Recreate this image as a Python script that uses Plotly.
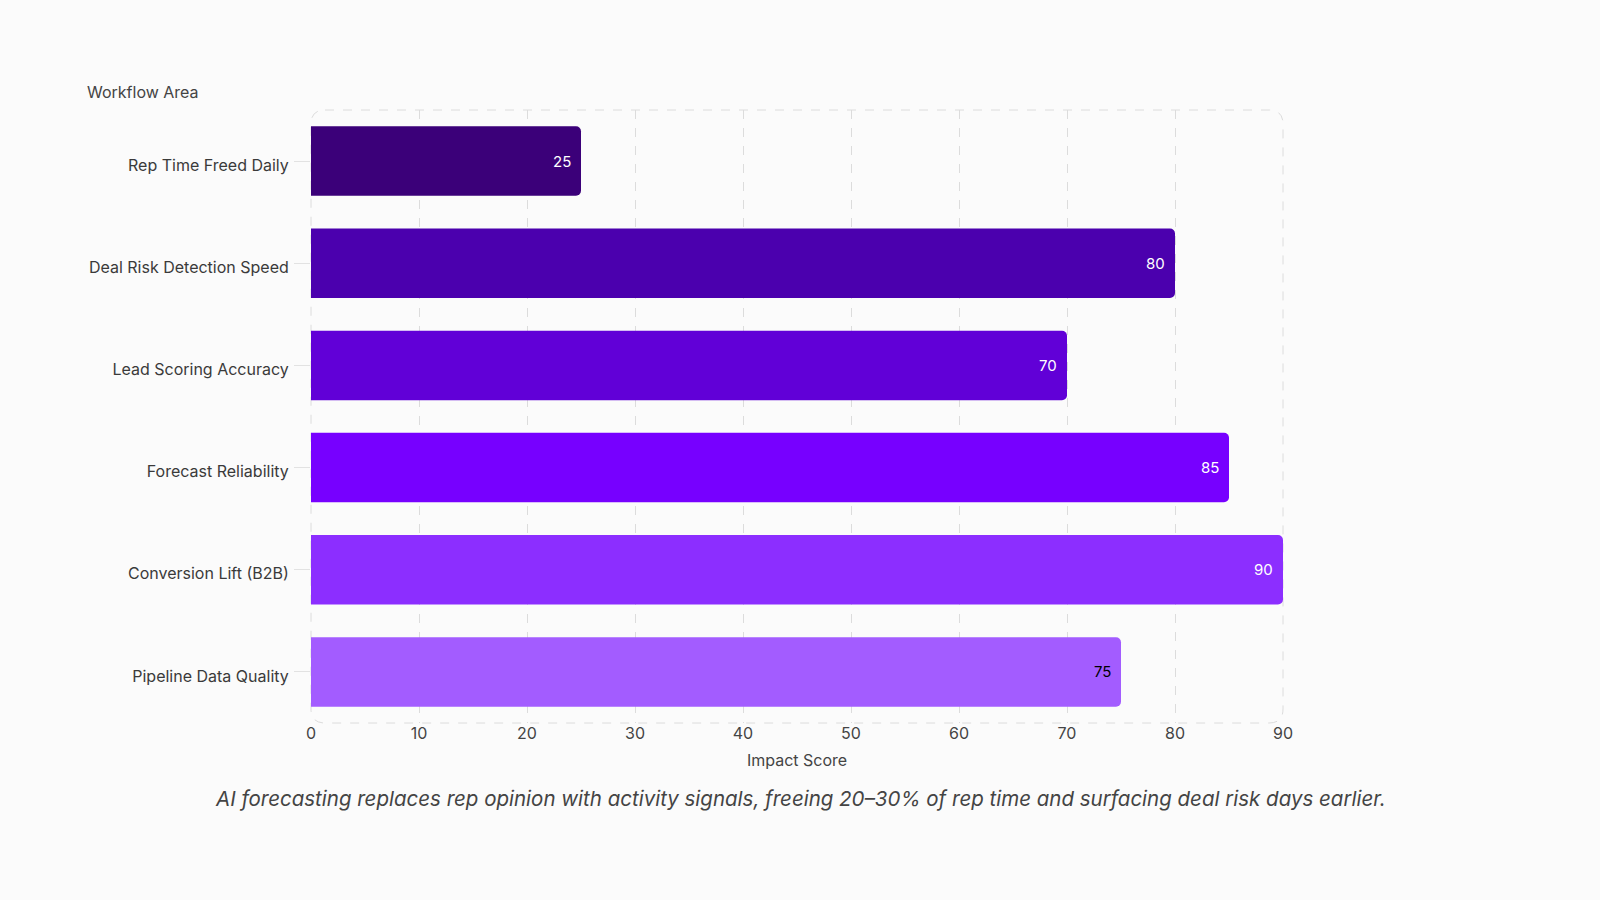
import plotly.graph_objects as go

categories = ["Rep Time Freed Daily", "Deal Risk Detection Speed", "Lead Scoring Accuracy",
              "Forecast Reliability", "Conversion Lift (B2B)", "Pipeline Data Quality"]
scores = [25, 80, 70, 85, 90, 75]
bar_colors = ["#3b0079", "#4b00ae", "#6100d7", "#7700ff", "#8c2eff", "#a35cff"]
label_colors = ["white", "white", "white", "white", "white", "black"]
x_ticks = [0, 10, 20, 30, 40, 50, 60, 70, 80, 90]

FONT = "Inter, Roboto, sans-serif"
BG = "#fbfbfb"
GRID = "#dcdcdc"

fig = go.Figure(go.Bar(
    y=categories, x=scores, orientation="h",
    marker=dict(color=bar_colors, line=dict(width=0)),
    width=0.68,
    hoverinfo="skip",
))

W, H = 1600, 900
ml, mr, mt, mb = 311, 317, 110, 177
pw, ph = W - ml - mr, H - mt - mb
rx, ry = 14 / pw, 14 / ph
path = (f"M {rx},1 L {1-rx},1 Q 1,1 1,{1-ry} L 1,{ry} Q 1,0 {1-rx},0 "
        f"L {rx},0 Q 0,0 0,{ry} L 0,{1-ry} Q 0,1 {rx},1 Z")

annotations = [
    dict(x=v, y=c, xref="x", yref="y", text=str(v), xanchor="right", yanchor="middle",
         xshift=-8, showarrow=False, font=dict(size=15, color=lc))
    for c, v, lc in zip(categories, scores, label_colors)
]
annotations += [
    dict(text="Workflow Area", xref="paper", yref="paper",
         x=(85 - ml) / pw, y=(H - mb - 92) / ph, xanchor="left", yanchor="middle",
         showarrow=False, font=dict(size=16, color="#444")),
    dict(text="<i>AI forecasting replaces rep opinion with activity signals, freeing 20–30% of rep time and surfacing deal risk days earlier.</i>",
         xref="paper", yref="paper", x=(800 - ml) / pw, y=(H - mb - 798) / ph,
         xanchor="center", yanchor="middle", showarrow=False,
         font=dict(size=20.5, color="#444")),
]

fig.update_layout(
    width=W, height=H,
    margin=dict(l=ml, r=mr, t=mt, b=mb),
    paper_bgcolor=BG, plot_bgcolor=BG,
    barcornerradius=5,
    showlegend=False,
    font=dict(family=FONT, size=16, color="#444"),
    xaxis=dict(range=[0, 90], tickvals=x_ticks, showgrid=True, gridcolor=GRID,
               griddash="dash", gridwidth=1, zeroline=False, showline=False,
               tickfont=dict(size=16, color="#444"), ticks="", ticklabelstandoff=-1,
               title=dict(text="Impact Score", font=dict(size=16, color="#444"), standoff=12)),
    yaxis=dict(categoryorder="array", categoryarray=categories, autorange="reversed",
               range=[5.5, -0.5], showgrid=False, zeroline=False, showline=False,
               ticks="outside", ticklen=16, tickcolor="#e2e2e2", tickwidth=1,
               tickfont=dict(size=16, color="#3a3a3a"), ticklabelstandoff=2,
               ticklabelshift=-4),
    shapes=[dict(type="path", path=path, xref="paper", yref="paper",
                 line=dict(color=GRID, width=1, dash="dash"), layer="below")],
    annotations=annotations,
)

fig.write_html("out.html")
